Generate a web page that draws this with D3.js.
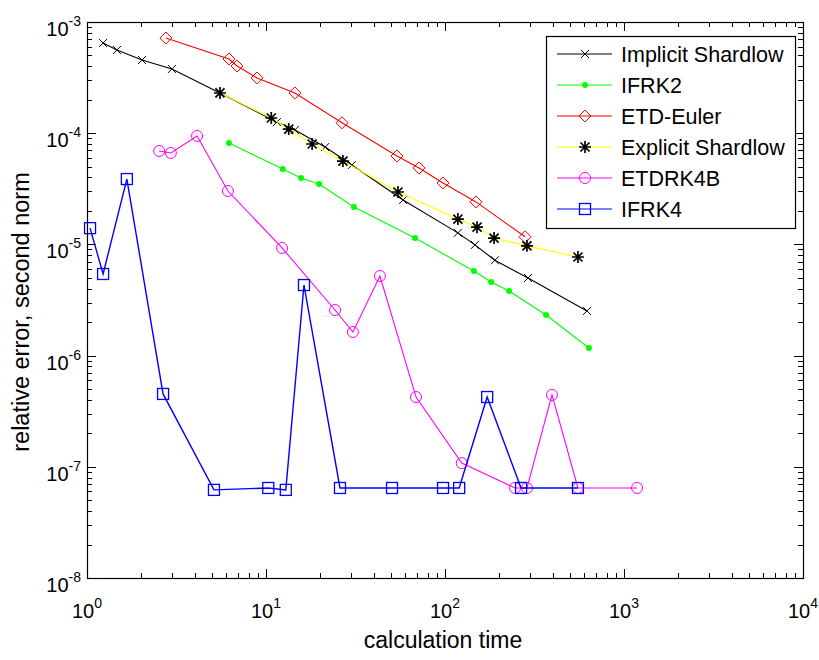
<!DOCTYPE html>
<html>
<head>
<meta charset="utf-8">
<script src="https://cdn.jsdelivr.net/npm/d3@7"></script>
<style>
  body { margin: 0; background: #fff; }
  text { font-family: "Liberation Sans", Arial, sans-serif; fill: #000; }
</style>
</head>
<body>
<div class="graph"></div>
<script>
// data
let implicitX = [1.23, 1.47, 2.03, 2.98, 5.53, 11.5, 14.5, 21.4, 30.2, 58.3, 118, 147, 190, 291, 621]
let implicitY = [6.47e-4, 5.6e-4, 4.55e-4, 3.78e-4, 2.30e-4, 1.26e-4, 1.07e-4, 7.5e-5, 5.18e-5, 2.51e-5, 1.27e-5, 9.9e-6, 7.2e-6, 4.99e-6, 2.52e-6]

let ifrk2X = [6.21, 12.4, 15.7, 19.8, 31.0, 68.0, 145, 181, 228, 367, 637]
let ifrk2Y = [8.17e-5, 4.76e-5, 3.95e-5, 3.49e-5, 2.17e-5, 1.14e-5, 5.77e-6, 4.59e-6, 3.81e-6, 2.32e-6, 1.17e-6]

let etdEulerX = [2.76, 6.21, 6.89, 8.91, 14.5, 26.6, 53.9, 71.6, 97.5, 149, 280]
let etdEulerY = [7.18e-4, 4.65e-4, 4.02e-4, 3.14e-4, 2.30e-4, 1.24e-4, 6.24e-5, 4.87e-5, 3.57e-5, 2.41e-5, 1.17e-5]

let explicitX = [5.53, 10.7, 13.4, 18.1, 26.9, 54.6, 118, 151, 188, 287, 553]
let explicitY = [2.30e-4, 1.37e-4, 1.09e-4, 8.0e-5, 5.62e-5, 2.96e-5, 1.69e-5, 1.43e-5, 1.14e-5, 9.7e-6, 7.7e-6]

let etdrk4bX = [2.53, 2.94, 4.12, 6.13, 12.3, 24.3, 30.6, 43.3, 68.9, 124, 246, 287, 396, 553, 1183]
let etdrk4bY = [6.92e-5, 6.64e-5, 9.44e-5, 3.02e-5, 9.29e-6, 2.57e-6, 1.63e-6, 5.20e-6, 4.24e-7, 1.08e-7, 6.45e-8, 6.45e-8, 4.43e-7, 6.45e-8, 6.45e-8]

let ifrk4X = [1.04, 1.23, 1.67, 2.66, 5.12, 10.3, 12.9, 16.3, 25.9, 50.6, 97.5, 120, 172, 266, 553]
let ifrk4Y = [1.40e-5, 5.42e-6, 3.87e-5, 4.52e-7, 6.2e-8, 6.45e-8, 6.2e-8, 4.31e-6, 6.45e-8, 6.45e-8, 6.45e-8, 6.45e-8, 4.24e-7, 6.45e-8, 6.45e-8]

let xTickExp = [0, 1, 2, 3, 4]
let yTickExp = [-3, -4, -5, -6, -7, -8]

let seriesNames = ['Implicit Shardlow', 'IFRK2', 'ETD-Euler', 'Explicit Shardlow', 'ETDRK4B', 'IFRK4']

let series = [
    { name: seriesNames[0], xs: implicitX, ys: implicitY, line: '#000', mark: 'x', markColor: '#000' },
    { name: seriesNames[1], xs: ifrk2X, ys: ifrk2Y, line: '#00ff00', mark: 'dot', markColor: '#00ff00' },
    { name: seriesNames[2], xs: etdEulerX, ys: etdEulerY, line: '#ff0000', mark: 'diamond', markColor: '#ff0000' },
    { name: seriesNames[3], xs: explicitX, ys: explicitY, line: '#ffff00', mark: 'star', markColor: '#000' },
    { name: seriesNames[4], xs: etdrk4bX, ys: etdrk4bY, line: '#ff00ff', mark: 'circle', markColor: '#ff00ff' },
    { name: seriesNames[5], xs: ifrk4X, ys: ifrk4Y, line: '#0000ff', mark: 'square', markColor: '#0000ff' }
]

let W = 819, H = 660
let m = { left: 87, top: 22, right: 16, bottom: 82 }
let pw = W - m.left - m.right,
    ph = H - m.top - m.bottom

let x = d3.scaleLog().domain([1, 1e4]).range([0, pw])
let y = d3.scaleLog().domain([1e-8, 1e-3]).range([ph, 0])

let svg = d3.select('.graph').append('svg')
    .attr('width', W)
    .attr('height', H)

let g = svg.append('g').attr('transform', 'translate(' + m.left + ',' + m.top + ')')

// minor + major ticks, inward on all four sides
let xMinor = [], yMinor = []
for (let e = 0; e < 4; e++) for (let k = 2; k <= 9; k++) xMinor.push(k * Math.pow(10, e))
for (let e = -8; e < -3; e++) for (let k = 2; k <= 9; k++) yMinor.push(k * Math.pow(10, e))
let xMajor = xTickExp.map(e => Math.pow(10, e))
let yMajor = yTickExp.map(e => Math.pow(10, e))

let ticks = g.append('g').attr('stroke', '#000').attr('stroke-width', 1)
function xt(vals, len) {
    vals.forEach(v => {
        let px = Math.round(x(v)) + 0.5
        ticks.append('line').attr('x1', px).attr('x2', px).attr('y1', ph).attr('y2', ph - len)
        ticks.append('line').attr('x1', px).attr('x2', px).attr('y1', 0).attr('y2', len)
    })
}
function yt(vals, len) {
    vals.forEach(v => {
        let py = Math.round(y(v)) + 0.5
        ticks.append('line').attr('y1', py).attr('y2', py).attr('x1', 0).attr('x2', len)
        ticks.append('line').attr('y1', py).attr('y2', py).attr('x1', pw).attr('x2', pw - len)
    })
}
xt(xMinor, 5); xt(xMajor, 9)
yt(yMinor, 5); yt(yMajor, 9)

// lines + markers
let line = d3.line().x(d => x(d[0])).y(d => y(d[1]))

function marker(sel, type, color) {
    if (type === 'x') {
        sel.append('path').attr('d', 'M-4,-4L4,4M-4,4L4,-4').attr('stroke', color).attr('stroke-width', 1).attr('fill', 'none')
    } else if (type === 'dot') {
        sel.append('circle').attr('r', 3).attr('fill', color)
    } else if (type === 'diamond') {
        sel.append('path').attr('d', 'M0,-6L6,0L0,6L-6,0Z').attr('stroke', color).attr('stroke-width', 1).attr('fill', 'none')
    } else if (type === 'star') {
        sel.append('path').attr('d', 'M-6,0L6,0M0,-6L0,6M-4.5,-4.5L4.5,4.5M-4.5,4.5L4.5,-4.5')
            .attr('stroke', color).attr('stroke-width', 1.7).attr('fill', 'none')
    } else if (type === 'circle') {
        sel.append('circle').attr('r', 5.5).attr('stroke', color).attr('stroke-width', 1).attr('fill', 'none')
    } else if (type === 'square') {
        sel.append('rect').attr('x', -5.5).attr('y', -5.5).attr('width', 11).attr('height', 11)
            .attr('stroke', color).attr('stroke-width', 1.3).attr('fill', 'none')
    }
}

let plot = g.append('g')
series.forEach(s => {
    let pts = s.xs.map((v, i) => [v, s.ys[i]])
    plot.append('path')
        .datum(pts)
        .attr('d', line)
        .attr('fill', 'none')
        .attr('stroke', s.line)
        .attr('stroke-width', s.mark === 'square' ? 1.4 : 1.1)
    pts.forEach(p => {
        let mg = plot.append('g').attr('transform', 'translate(' + x(p[0]) + ',' + y(p[1]) + ')')
        marker(mg, s.mark, s.markColor)
    })
})

// frame
g.append('rect')
    .attr('x', 0.5).attr('y', 0.5).attr('width', pw).attr('height', ph)
    .attr('fill', 'none').attr('stroke', '#000').attr('stroke-width', 1.2)

// tick labels
xTickExp.forEach(e => {
    let t = g.append('text')
        .attr('x', x(Math.pow(10, e)))
        .attr('y', ph + 40)
        .attr('text-anchor', 'middle')
        .style('font-size', '20px')
    t.append('tspan').text('10')
    t.append('tspan').attr('dy', -10).style('font-size', '14px').text(e)
})
yTickExp.forEach(e => {
    let t = g.append('text')
        .attr('x', -6)
        .attr('y', y(Math.pow(10, e)) + 14)
        .attr('text-anchor', 'end')
        .style('font-size', '20px')
    t.append('tspan').text('10')
    t.append('tspan').attr('dy', -10).style('font-size', '14px').text(e)
})

// axis titles
svg.append('text')
    .attr('x', 443)
    .attr('y', 648)
    .attr('text-anchor', 'middle')
    .style('font-size', '23px')
    .text('calculation time')

svg.append('text')
    .attr('transform', 'translate(29,312) rotate(-90)')
    .attr('text-anchor', 'middle')
    .style('font-size', '23.5px')
    .text('relative error, second norm')

// legend
let lg = svg.append('g').attr('transform', 'translate(546,36)')
lg.append('rect')
    .attr('x', 0.5).attr('y', 0.5).attr('width', 249).attr('height', 192)
    .attr('fill', '#fff').attr('stroke', '#000').attr('stroke-width', 1.2)

series.forEach((s, i) => {
    let ry = 18 + i * 31
    lg.append('line')
        .attr('x1', 11).attr('x2', 66).attr('y1', ry).attr('y2', ry)
        .attr('stroke', s.line).attr('stroke-width', 1.2)
    let mg = lg.append('g').attr('transform', 'translate(39,' + ry + ')')
    marker(mg, s.mark, s.markColor)
    lg.append('text')
        .attr('x', 75)
        .attr('y', ry + 7.5)
        .style('font-size', '21.5px')
        .text(s.name)
})
</script>
</body>
</html>
